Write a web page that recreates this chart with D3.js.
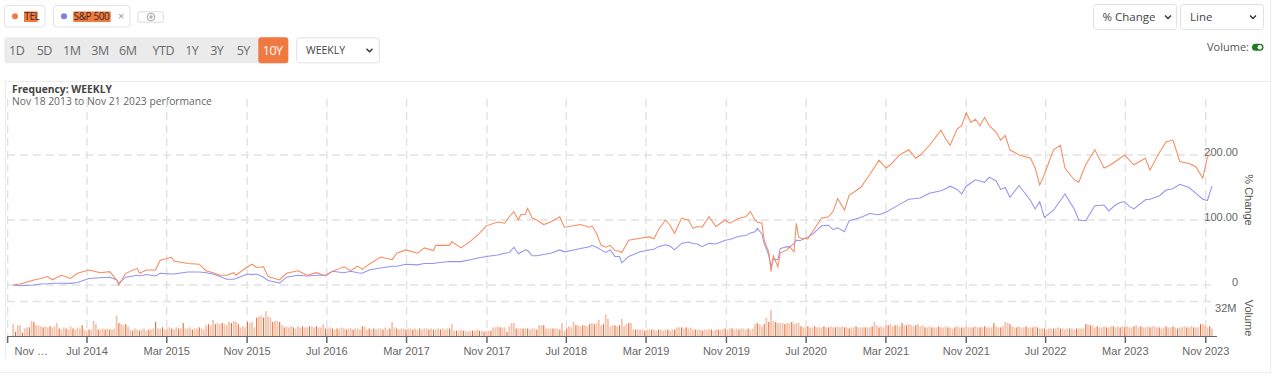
<!DOCTYPE html>
<html><head><meta charset="utf-8">
<script src="https://cdn.jsdelivr.net/npm/d3@7"></script>
<style>
html,body{margin:0;padding:0;background:#fff;}
svg{display:block;}
</style></head>
<body>
<svg id="c" width="1280" height="379"></svg>
<script>
// ---------- DATA ----------
const startDate = "2013-11-18";
const endDate = "2023-11-21";
const rangeButtons = ["1D","5D","1M","3M","6M","YTD","1Y","3Y","5Y","10Y"];
const tickLabels = ["Nov …","Jul 2014","Mar 2015","Nov 2015","Jul 2016","Mar 2017","Nov 2017","Jul 2018","Mar 2019","Nov 2019","Jul 2020","Mar 2021","Nov 2021","Jul 2022","Mar 2023","Nov 2023"];
const tickDates = ["2013-11-01","2014-07-01","2015-03-01","2015-11-01","2016-07-01","2017-03-01","2017-11-01","2018-07-01","2019-03-01","2019-11-01","2020-07-01","2021-03-01","2021-11-01","2022-07-01","2023-03-01","2023-11-01"];
const yTicks = [0,100,200];
const yTickLabels = ["0","100.00","200.00"];
// week offsets from start date
const weeks = [0,3,9,12,15,17,21,25,28,33,38,42,45,46,49,54,55,58,62,64,69,70,76,81,84,87,90,93,96,97,102,104,106,109,111,115,116,119,124,128,132,136,139,144,147,150,152,155,160,165,167,171,176,179,183,184,190,191,195,199,203,206,211,214,216,218,220,221,223,224,226,228,231,234,238,240,244,247,251,252,254,256,258,260,262,264,265,268,273,277,279,281,284,286,288,291,294,296,298,300,303,306,310,312,316,319,321,323,324,326,327,329,330,331,333,334,337,338,340,341,342,343,346,348,352,355,357,359,362,364,369,373,377,380,382,386,390,393,395,399,404,406,408,411,413,415,417,419,421,423,425,428,430,432,434,438,443,445,447,449,453,456,458,462,464,467,471,475,477,480,482,484,486,488,493,495,499,502,505,508,512,515,518,520,522];
// TEL % change
const tel = [0,1.5,7.7,10,13,8,15,10,18,23,19,20.5,8,0,18,25.6,18,23,23,38,42.6,37,33,32,22,19,15,15,19,15,28,32,27,28,13,9,8,18,22,15,19,14,21,28,22,29,24,32,43,39,49,54,49,57,53,61,61,67,57,67,79.5,91,97,95,105,113,100,108,109,118,103,100,93,97,105,89,91,93,89,91,79.5,61,58,61,53,52,50,69,72,74,71,85,100,92,79.5,102.6,100,87,90,89,105,90,100,95,102.6,105,113,100,97,95,69,51,20.5,45,28,49,54,59,51,95,74,72,71,82,102.6,105,113,133,115,138,150,170,192,180,185,200,208,195,200,215,238,225,215,240,245,265,250,255,245,258,245,235,223,230,208,200,195,180,154,170,208,215,180,162,158,185,208,180,183,190,195,200,192,185,195,177,203,220,223,190,187,182,164.6,197,203];
// S&P 500 % change
const spx = [0,-1,0,1.5,2,2.7,2.7,2.5,4,10,11,12,8,3,12,15,14,16,14,18,17,17,20,20,19,17,13,9,9,10,17,16,17,12,7,4,2.7,12,15,14,15,15,21,19,21,19,18,23,26,29,29,32,31,33,33,34,36,36,36,39,42,44,46,49,50,58,48,50,54,53,45,45,47,49,54,51,54,56,59,61,58,54,50,54,44,44,34,44,51,54,55,59,62,60,54,64,66,64,63,59,64,63,69,70,75,76,80,82,87,79,64,46,28,40,39,56,59,58,64,69,68,69,74,78,91,92,85,88,82,99,104,110,108,112,116,124,132,133,134,141,145,148,152,147,140,152,157,162,160,158,166,160,147,150,135,153,130,117,128,104,115,130,140,117,100,99,122,123,114,123,127,128,121,117,131,132,137,146,148,155,150,141,132,130,152];
// weekly TEL volume (millions), one per week from start
const volume = [
11,4,10,10,3,7,8,8,14,13,10,10,9,8,9,8,9,8,9,12,
7,6,8,7,6,9,7,6,8,7,10,6,5,6,6,14,11,6,6,7,
6,7,6,6,7,19,12,11,10,11,9,6,5,7,6,5,6,7,5,6,
6,7,13,7,7,8,6,7,8,7,6,8,7,7,12,7,7,8,6,7,
7,8,7,6,10,11,10,15,11,12,11,12,11,10,13,12,14,13,11,8,
9,8,13,12,13,8,17,18,19,17,23,18,17,13,14,14,13,10,8,9,
8,9,8,7,9,8,9,8,8,9,9,8,9,8,8,11,7,7,8,7,
6,7,7,8,7,6,7,7,6,7,7,6,9,9,6,7,6,7,6,7,
7,6,8,6,7,13,8,7,6,7,7,6,7,7,6,7,6,7,6,7,
7,6,7,6,6,7,6,7,6,7,7,11,5,5,5,6,5,5,4,5,
5,5,6,5,5,4,5,5,5,8,8,9,8,8,8,4,9,12,12,7,
7,7,7,7,7,6,7,7,6,10,10,10,7,7,7,7,7,7,6,12,
5,7,9,8,13,10,10,9,10,10,9,11,12,11,12,15,10,11,20,16,
9,10,10,9,10,16,9,11,12,12,6,6,6,6,6,5,6,6,6,6,
5,6,6,5,6,6,5,6,6,8,8,8,7,8,7,8,6,6,6,6,
5,6,6,6,6,5,6,6,6,6,7,6,7,7,6,7,6,7,7,6,
7,6,7,11,12,11,9,11,17,13,24,14,13,12,12,12,11,12,12,13,
11,12,12,9,8,8,9,8,8,9,8,8,8,9,8,8,9,8,8,9,
8,9,8,8,7,8,8,9,8,8,8,8,8,8,9,13,10,8,9,8,
10,10,11,9,10,10,9,12,10,10,11,10,9,10,11,9,10,8,8,9,
8,8,8,9,8,8,9,8,8,7,8,9,8,8,8,9,8,8,8,9,
8,8,8,9,8,8,8,12,9,8,8,9,13,12,11,9,8,8,9,8,
8,9,8,8,8,9,8,7,7,7,6,7,7,7,7,8,7,7,6,7,
7,7,6,7,7,7,7,11,11,10,10,8,9,8,8,9,8,8,9,9,
8,9,8,9,8,9,8,8,9,10,8,9,8,8,9,8,9,9,8,8,
7,8,9,8,8,9,8,7,8,8,9,8,8,9,8,8,8,11,11,10,
8,9,7];
// 1 = down week (dark bar)
const volDown = (
"0100100101000100100010010010001001000100101000100100"+
"1001000100100100010010100010010001001001000100100010"+
"0010010001001010001000100100100010010100010010001001"+
"0100010010010001001001000101001000100100100010010100"+
"1000100100010010100010010001001001000100100101000100"+
"0010100010010001001001000100100101000100100010010010"+
"0100100010001001010010001001000100100100010100100010"+
"1001000100100100010010010100010001001001000100100100"+
"0010010100010010001001000100101001000100100010010001"+
"0100100010010010100010010001000100100101000100100100"+
"010").split("").map(Number);

// ---------- DRAW ----------
const svg = d3.select("#c");
const UI = "'Open Sans', 'Noto Sans', sans-serif";
const AX = "'Liberation Sans', Arial, sans-serif";
const parse = d3.timeParse("%Y-%m-%d");
const t0 = parse(startDate), t1 = parse(endDate);
const dayMs = 864e5;
const wDate = w => new Date(t0.getTime() + w*7*dayMs);

const x = d3.scaleTime().domain([t0, t1]).range([13.2, 1212.3]);
const y = d3.scaleLinear().domain([0, 200]).range([285, 155]);
const yv = d3.scaleLinear().domain([0, 32]).range([336, 301.5]);

svg.append("rect").attr("width",1280).attr("height",379).attr("fill","#fff");

// panel borders
const border = "#ececec";
svg.append("line").attr("x1",1270.5).attr("x2",1270.5).attr("y1",0).attr("y2",373).attr("stroke",border);
svg.append("line").attr("x1",0).attr("x2",1270.5).attr("y1",372.5).attr("y2",372.5).attr("stroke",border);
svg.append("line").attr("x1",5).attr("x2",1270).attr("y1",81.5).attr("y2",81.5).attr("stroke",border);
svg.append("line").attr("x1",5.5).attr("x2",5.5).attr("y1",81.5).attr("y2",358).attr("stroke",border);

// top chips
function chip(x0, w, dotColor, label, hlX, hlW, close){
  svg.append("rect").attr("x",x0+0.5).attr("y",5.5).attr("width",w).attr("height",21.5).attr("rx",3)
    .attr("fill","#fff").attr("stroke","#e3e3e3");
  svg.append("circle").attr("cx",x0+11).attr("cy",16.3).attr("r",3).attr("fill",dotColor);
  svg.append("rect").attr("x",hlX).attr("y",11.5).attr("width",hlW).attr("height",10.5).attr("fill","#f07b3f");
  svg.append("text").attr("x",hlX+0.3).attr("y",20.2).attr("font-family",UI).attr("font-size",10)
    .attr("fill","#3a2a22").attr("letter-spacing",-0.4).text(label);
  if (close) svg.append("text").attr("x",x0+65).attr("y",19.8).attr("font-family",UI).attr("font-size",11).attr("fill","#999").text("×");
}
chip(4, 40.5, "#f07a45", "TEL", 24, 13.7, false);
chip(53, 76.5, "#7e7de6", "S&P 500", 73.3, 37.4, true);
svg.append("rect").attr("x",138).attr("y",11.8).attr("width",25.3).attr("height",10.4).attr("rx",2)
  .attr("fill","#fff").attr("stroke","#dcdcdc");
svg.append("circle").attr("cx",151).attr("cy",17).attr("r",3.8).attr("fill","none").attr("stroke","#888").attr("stroke-width",0.8);
svg.append("path").attr("d","M149,17H153M151,15V19").attr("stroke","#888").attr("stroke-width",0.8);

// range buttons
svg.append("rect").attr("x",4.3).attr("y",37.3).attr("width",284).attr("height",26).attr("rx",3).attr("fill","#ebebeb");
const btnCx = [16.7,44.3,71.7,100,127.7,163.3,191.7,216.7,243.3,272.7];
svg.append("rect").attr("x",258.3).attr("y",37.3).attr("width",30).attr("height",26).attr("rx",3).attr("fill","#f07940");
rangeButtons.forEach((b,i)=>{
  svg.append("text").attr("x",btnCx[i]).attr("y",55).attr("text-anchor","middle")
    .attr("font-family",UI).attr("font-size",12.5).attr("letter-spacing",-0.5)
    .attr("fill", b==="10Y" ? "#fff" : "#6a6a6a").text(b);
});
function chevron(cx, cy){
  svg.append("path").attr("d",`M${cx-3},${cy-1.5}L${cx},${cy+1.5}L${cx+3},${cy-1.5}`)
    .attr("fill","none").attr("stroke","#333").attr("stroke-width",1.4);
}
function select(x0, y0, w, h, label, tx, ty, fs, chx){
  svg.append("rect").attr("x",x0).attr("y",y0).attr("width",w).attr("height",h).attr("rx",3)
    .attr("fill","#fff").attr("stroke","#e1e1e1");
  svg.append("text").attr("x",tx).attr("y",ty).attr("font-family",UI).attr("font-size",fs).attr("fill","#444").text(label);
  chevron(chx, y0+h/2);
}
select(296.7, 37.8, 82.6, 25, "WEEKLY", 306, 54.2, 10.5, 369.5);
select(1093.5, 4.5, 83.2, 25, "% Change", 1102.5, 20.8, 11.5, 1168);
select(1180.5, 4.5, 83, 25, "Line", 1190, 20.8, 11.5, 1253);
svg.append("text").attr("x",1249).attr("y",51).attr("text-anchor","end").attr("font-family",UI)
  .attr("font-size",11).attr("fill","#555").text("Volume:");
svg.append("rect").attr("x",1252).attr("y",43.8).attr("width",11.5).attr("height",7).attr("rx",3.5).attr("fill","#1f7a24");
svg.append("circle").attr("cx",1259.8).attr("cy",47.3).attr("r",2.2).attr("fill","#fff");

// title
svg.append("text").attr("x",12).attr("y",93).attr("font-family",UI).attr("font-size",10.3).attr("font-weight",700)
  .attr("fill","#444").text("Frequency: WEEKLY");
svg.append("text").attr("x",12).attr("y",105.3).attr("font-family",UI).attr("font-size",10.3)
  .attr("fill","#666").text("Nov 18 2013 to Nov 21 2023 performance");

// grid
const gridC = "#e2e2e2";
const tds = tickDates.map(parse);
svg.append("g").selectAll("line").data(tds).join("line")
  .attr("x1",d=>x(d)).attr("x2",d=>x(d)).attr("y1",99).attr("y2",336)
  .attr("stroke",gridC).attr("stroke-width",1.4).attr("stroke-dasharray","8,5");
svg.append("g").selectAll("line").data(yTicks).join("line")
  .attr("x1",7).attr("x2",1212).attr("y1",d=>y(d)).attr("y2",d=>y(d))
  .attr("stroke",gridC).attr("stroke-width",1.4).attr("stroke-dasharray","8,5");
svg.append("line").attr("x1",7).attr("x2",1212).attr("y1",yv(32)).attr("y2",yv(32))
  .attr("stroke",gridC).attr("stroke-width",1.4).attr("stroke-dasharray","8,5");

// y labels (right)
yTicks.forEach((v,i)=>{
  svg.append("text").attr("x",1238).attr("y",y(v)+1).attr("text-anchor","end")
    .attr("font-family",AX).attr("font-size",11).attr("fill","#666").text(yTickLabels[i]);
});
svg.append("text").attr("x",1236.5).attr("y",312).attr("text-anchor","end")
  .attr("font-family",AX).attr("font-size",11).attr("fill","#666").text("32M");
svg.append("text").attr("transform","translate(1245,200) rotate(90)").attr("text-anchor","middle")
  .attr("font-family",AX).attr("font-size",11).attr("fill","#555").text("% Change");
svg.append("text").attr("transform","translate(1245,318) rotate(90)").attr("text-anchor","middle")
  .attr("font-family",AX).attr("font-size",11).attr("fill","#555").text("Volume");

// volume bars
svg.append("g").selectAll("rect").data(volume).join("rect")
  .attr("x",(d,i)=>x(wDate(i))-(volDown[i]?0.5:0.9)).attr("width",(d,i)=>volDown[i]?1.1:1.8)
  .attr("y",d=>yv(d)).attr("height",d=>yv(0)-yv(d))
  .attr("fill",(d,i)=> volDown[i] ? "#e86a30" : "#f5c4ae");

// x axis baseline + ticks
svg.append("line").attr("x1",7).attr("x2",1217).attr("y1",336.5).attr("y2",336.5).attr("stroke","#666").attr("stroke-width",1);
svg.append("g").selectAll("line").data(tds).join("line")
  .attr("x1",d=>x(d)).attr("x2",d=>x(d)).attr("y1",336.5).attr("y2",343)
  .attr("stroke","#666").attr("stroke-width",1.5);
svg.append("g").selectAll("text").data(tds).join("text")
  .attr("x",(d,i)=> i===0 ? 14.5 : x(d)).attr("y",355)
  .attr("text-anchor",(d,i)=> i===0 ? "start" : "middle")
  .attr("font-family",AX).attr("font-size",11).attr("fill","#666")
  .text((d,i)=>tickLabels[i]);

// lines
const line = d3.line().x((d)=>x(wDate(d[0]))).y(d=>y(d[1]));
svg.append("path").datum(weeks.map((w,i)=>[w,spx[i]])).attr("d",line)
  .attr("fill","none").attr("stroke","#9494f2").attr("stroke-width",1.05);
svg.append("path").datum(weeks.map((w,i)=>[w,tel[i]])).attr("d",line)
  .attr("fill","none").attr("stroke","#f68c60").attr("stroke-width",1.05);
</script>
</body></html>
